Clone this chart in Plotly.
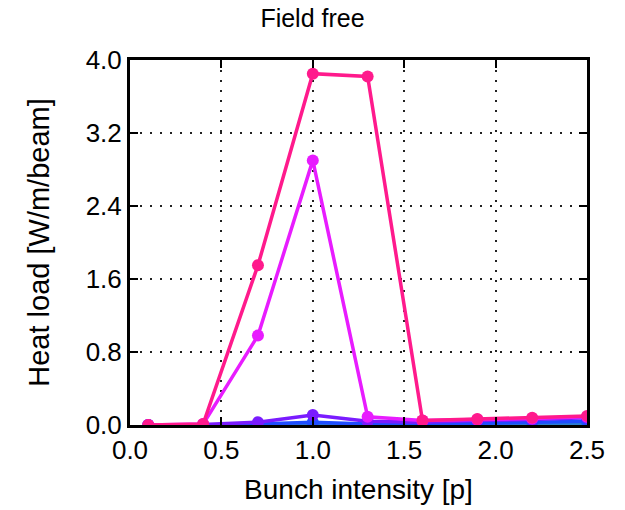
import plotly.graph_objects as go

# Bunch intensity [p] and heat load [W/m/beam] per configuration
intensity = [0.1, 0.4, 0.7, 1.0, 1.3, 1.6, 1.9, 2.2, 2.5]

series_names = ["SEY 1.1", "SEY 1.2", "SEY 1.3", "SEY 1.4", "SEY 1.5"]
series_colors = ["#2a7fd0", "#1f4dff", "#7a1cff", "#e81cff", "#ff1a8c"]
heat_sey11 = [0.0, 0.0, 0.0, 0.005, 0.0, 0.005, 0.005, 0.01, 0.01]
heat_sey12 = [0.0, 0.0, 0.01, 0.03, 0.01, 0.01, 0.02, 0.03, 0.04]
heat_sey13 = [0.0, 0.005, 0.03, 0.11, 0.04, 0.03, 0.05, 0.06, 0.08]
heat_sey14 = [0.0, 0.01, 0.98, 2.90, 0.09, 0.05, 0.06, 0.07, 0.09]
heat_sey15 = [0.0, 0.01, 1.75, 3.85, 3.82, 0.05, 0.065, 0.08, 0.10]
series_values = [heat_sey11, heat_sey12, heat_sey13, heat_sey14, heat_sey15]

fig = go.Figure()
for name, color, vals in zip(series_names, series_colors, series_values):
    fig.add_trace(go.Scatter(
        x=intensity, y=vals, name=name, mode="lines+markers",
        line=dict(color=color, width=3.5),
        marker=dict(color=color, size=12),
    ))

font = "Liberation Sans, Arial, sans-serif"
axis_common = dict(
    showline=True, linecolor="black", linewidth=3, mirror="allticks",
    ticks="inside", ticklen=8, tickwidth=1.5, tickcolor="black",
    showgrid=True, gridcolor="#222222", gridwidth=1.5, griddash="2px,8px",
    zeroline=False, automargin=False,
    tickfont=dict(size=26, color="black", family=font),
)

fig.update_layout(
    width=625, height=510,
    margin=dict(l=130, r=38, t=60, b=85),
    paper_bgcolor="white", plot_bgcolor="white",
    showlegend=False,
    title=dict(text="Field free", x=0.5, xanchor="center", y=0.965, yanchor="middle",
               font=dict(size=25, color="black", family=font)),
    xaxis=dict(range=[0, 2.5], tickvals=[0, 0.5, 1.0, 1.5, 2.0, 2.5],
               ticktext=["0.0", "0.5", "1.0", "1.5", "2.0", "2.5"],
               title=dict(text="Bunch intensity [p]", standoff=16,
                          font=dict(size=28, color="black", family=font)),
               **axis_common),
    yaxis=dict(range=[0, 4.0], tickvals=[0, 0.8, 1.6, 2.4, 3.2, 4.0],
               ticktext=["0.0", "0.8", "1.6", "2.4", "3.2", "4.0"],
               title=dict(text="Heat load [W/m/beam]", standoff=28,
                          font=dict(size=29, color="black", family=font)),
               **axis_common),
)

fig.write_html("out.html")
